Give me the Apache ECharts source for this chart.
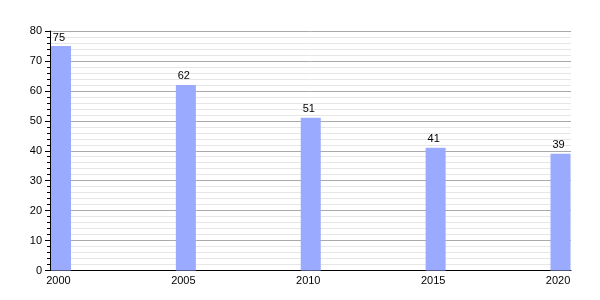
<!DOCTYPE html>
<html>
<head>
<meta charset="utf-8">
<script src="https://cdn.jsdelivr.net/npm/echarts@6/dist/echarts.min.js"></script>
<style>html,body{margin:0;padding:0;background:#fff}#c{width:600px;height:300px}</style>
</head>
<body>
<div id="c"></div>
<script>
const years = [2000, 2005, 2010, 2015, 2020];
const values = [75, 62, 51, 41, 39];
const yTicks = [0, 10, 20, 30, 40, 50, 60, 70, 80];

const chart = echarts.init(document.getElementById('c'), null, {renderer: 'canvas'});
const font = 'Liberation Sans, Arial, sans-serif';
chart.setOption({
  animation: false,
  grid: {left: 50, right: 29, top: 31, bottom: 29.5, containLabel: false},
  xAxis: {
    type: 'value',
    min: 1999.56,
    max: 2020.42,
    axisLine: {show: true, onZero: false, lineStyle: {color: '#000', width: 1}},
    axisTick: {show: false},
    splitLine: {show: false},
    axisLabel: {
      customValues: years,
      color: '#000', fontSize: 11, fontFamily: font, margin: 5,
      padding: [0, 5, 0, 0],
      formatter: v => String(v)
    }
  },
  yAxis: {
    type: 'value',
    min: 0, max: 80, interval: 10,
    axisLine: {show: true, lineStyle: {color: '#000', width: 1}},
    axisTick: {show: true, length: 5, lineStyle: {color: '#000'}},
    minorTick: {show: true, splitNumber: 5, length: 3, lineStyle: {color: '#000'}},
    splitLine: {show: true, lineStyle: {color: '#aaaaaa', width: 1}},
    minorSplitLine: {show: true, lineStyle: {color: '#e6e6e6', width: 1}},
    axisLabel: {color: '#000', fontSize: 11, fontFamily: font, margin: 8}
  },
  series: [{
    type: 'bar',
    data: years.map((y, i) => [y, values[i]]),
    barWidth: 20,
    itemStyle: {color: '#99aaff'},
    label: {show: true, position: 'top', color: '#000', fontSize: 11, fontFamily: font, distance: 3, offset: [-2, 0]}
  }]
});
</script>
</body>
</html>
